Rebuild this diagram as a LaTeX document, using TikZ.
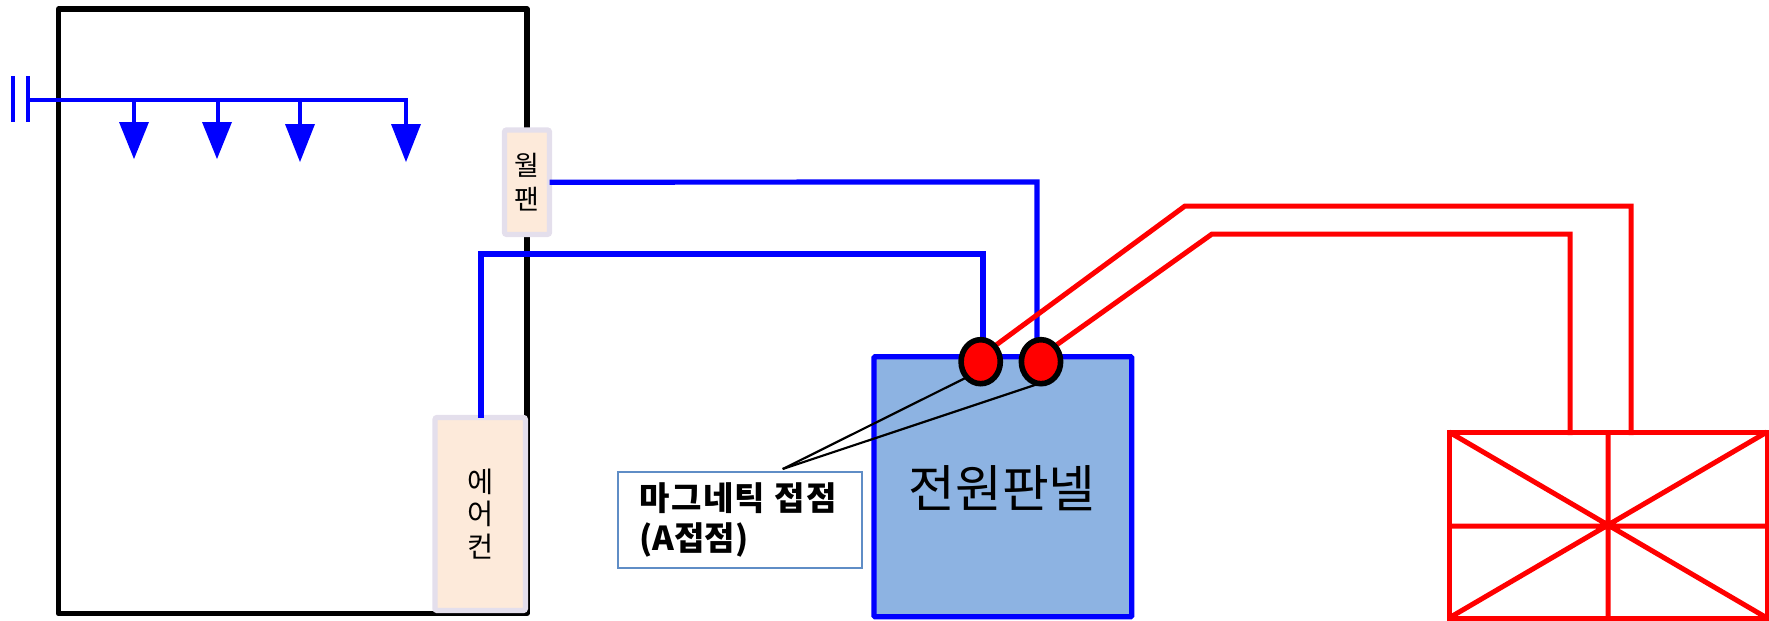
\documentclass[tikz,border=0pt]{standalone}
\usepackage{fontspec}
\setmainfont{Noto Sans CJK KR}
\usetikzlibrary{calc,shapes.geometric}
\pgfdeclarelayer{bg}
\pgfsetlayers{bg,main}
\definecolor{panelblue}{HTML}{8DB3E2}
\definecolor{peach}{HTML}{FDEADA}
\definecolor{lav}{HTML}{E4DFEC}
\definecolor{lblborder}{HTML}{5F8DC6}
\tikzset{
  x=0.5pt,y=-0.5pt,
  bluew/.style={draw=blue,line width=2.6pt,line join=miter},
  duct/.style={draw=blue,line width=2.2pt},
  redw/.style={draw=red,line width=2.5pt,line join=miter},
  tip/.style={fill=blue,draw=none},
  unit/.style={draw=lav,fill=peach,line width=2.6pt,rounded corners=1pt,inner sep=0pt,outer sep=0pt,align=center,text=black},
  contact/.style={ellipse,draw=black,fill=red,line width=2.8pt,minimum width=19.6pt,minimum height=22pt,inner sep=0pt,outer sep=0pt},
  lead/.style={draw=black,line width=1.1pt},
}
\begin{document}
\begin{tikzpicture}
\useasboundingbox (0,0) rectangle (1769,621);
% panel and contacts
\node[draw=blue,fill=panelblue,line width=2.6pt,minimum width=128.85pt,minimum height=130pt,inner sep=0pt,outer sep=0pt,anchor=north west,rounded corners=0.5pt] (panel) at (874,356.7) {};
\node[font=\fontsize{25.4}{28}\selectfont,anchor=center] (paneltext) at (1002,488) {전원판넬};
\node[contact] (c1) at (980.7,361.7) {};
\node[contact] (c2) at (1041,361.7) {};
% room, units and wires lie under the contacts
\coordinate (f1) at (1037,182);
\coordinate (a1) at (481,254);
\coordinate (a2) at (983,254);
\coordinate (r1) at (1185,206);
\coordinate (r2) at (1631,206);
\coordinate (r3) at (1212,234);
\coordinate (r4) at (1570,234);
\begin{pgfonlayer}{bg}
\draw[black,line width=2.7pt,line join=round] (58.5,9) rectangle (527,613.5);
\node[unit,minimum width=22.5pt,minimum height=52.2pt,font=\fontsize{13.5}{17}\selectfont] (fan) at (527,182.2) {월\\팬};
\node[unit,minimum width=45.2pt,minimum height=96.5pt,anchor=north west,font=\fontsize{14.2}{16.25}\selectfont] (ac) at (435,417.5) {에\\어\\컨};
\draw[bluew] (fan.east) -- (f1) -- (f1 |- c2.center);
\draw[bluew] (ac.north -| a1) -- (a1) -- (a2) -- (a2 |- c1.center);
\draw[redw] (c1.north east) -- (r1) -- (r2) -- (1631,435);
\draw[redw] (c2.north east) -- (r3) -- (r4) -- (1570,435);
\end{pgfonlayer}
% duct
\coordinate (plateA) at (13,76);
\coordinate (plateAb) at (13,122);
\coordinate (plateB) at (28,76);
\coordinate (plateBb) at (28,122);
\coordinate (main) at (28,100);
\coordinate (mainE) at (406,100);
\draw[duct] (plateA) -- (plateAb);
\draw[duct] (plateB) -- (plateBb);
\draw[duct] (main) -- (mainE) -- (406,126);
\draw[duct] (134,100) -- (134,124);
\draw[duct] (218,100) -- (218,124);
\draw[duct] (300,100) -- (300,126);
\fill[tip] (119,122) -- (149,122) -- (134,159) -- cycle;
\fill[tip] (202,122) -- (232,122) -- (217,159) -- cycle;
\fill[tip] (285,124) -- (315,124) -- (300,162) -- cycle;
\fill[tip] (391,124) -- (421,124) -- (406,162) -- cycle;
% red unit
\coordinate (bTL) at (1449,432);
\coordinate (bTR) at (1767,432);
\coordinate (bBL) at (1449,618);
\coordinate (bBR) at (1767,618);
\coordinate (bC) at (1608,526);
\draw[redw] (bTL) rectangle (bBR);
\draw[redw] (bTL) -- (bBR) (bTR) -- (bBL) (bTL |- bC) -- (bTR |- bC) (bC |- bTL) -- (bC |- bBL);
% label
\node[draw=lblborder,fill=white,line width=0.9pt,minimum width=122pt,minimum height=48.15pt,inner sep=0pt,outer sep=0pt,anchor=north west] (lbl) at (617.7,471.7) {};
\node[anchor=west,align=left,font=\fontsize{16.5}{20}\selectfont\bfseries,inner sep=0pt] (lbltext) at (639,520) {\addfontfeatures{LetterSpace=4.5}마그네틱 접점\\(A접점)};
\coordinate (j) at (782.7,469);
\draw[lead] (j) -- (c1.south west);
\draw[lead] (j) -- (c2.265);
\end{tikzpicture}
\end{document}
